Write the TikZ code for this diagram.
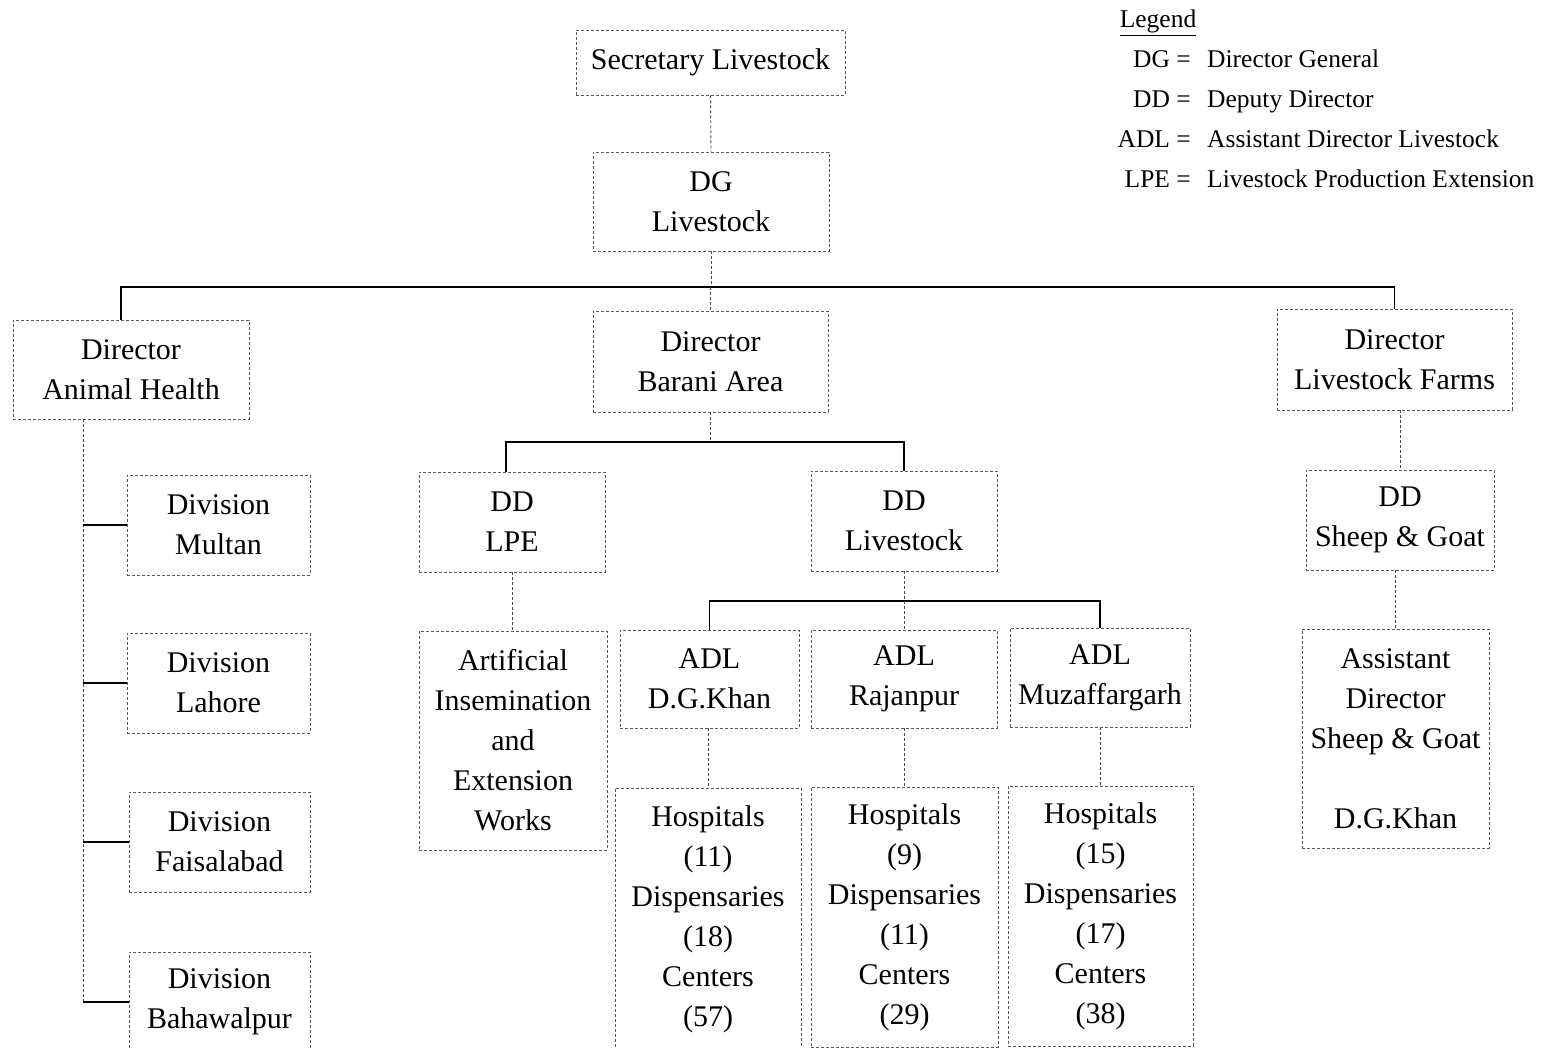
\documentclass[tikz,border=0pt]{standalone}
\usepackage{fontspec}
\setmainfont{Liberation Serif}
\begin{document}
\begin{tikzpicture}[x=1pt,y=-1pt,
  box/.style={draw=black!65, densely dashed, line width=0.8pt, inner sep=0pt, align=center,
    font=\fontsize{30}{40}\selectfont, execute at begin node={\vspace*{7pt}}},
  bus/.style={draw=black, line width=1.6pt},
  conn/.style={draw=black!70, densely dashed, line width=0.9pt},
  leg/.style={font=\fontsize{25.5}{30}\selectfont, inner sep=0pt}]
\useasboundingbox (0,0) rectangle (1543,1048);
% top
\node[box, minimum width=269, minimum height=65] (sec) at (710.5,62.5) {Secretary Livestock};
\node[box, minimum width=236, minimum height=99] (dg) at (711,201.5) {DG\\Livestock};
% directors
\node[box, minimum width=236, minimum height=99] (dah) at (131,369.5) {Director\\Animal Health};
\node[box, minimum width=235, minimum height=101] (dba) at (710.5,361.5) {Director\\Barani Area};
\node[box, minimum width=235, minimum height=101] (dlf) at (1394.5,359.5) {Director\\Livestock Farms};
% divisions
\node[box, minimum width=183, minimum height=100] (mul) at (218.5,525) {Division\\Multan};
\node[box, minimum width=183, minimum height=100] (lah) at (218.5,683) {Division\\Lahore};
\node[box, minimum width=181, minimum height=100] (fai) at (219.5,842) {Division\\Faisalabad};
\node[box, minimum width=181, minimum height=100] (bah) at (219.5,1002) {Division\\Bahawalpur};
% barani
\node[box, minimum width=186, minimum height=100] (lpe) at (512,522) {DD\\LPE};
\node[box, minimum width=186, minimum height=100] (ddl) at (904,521) {DD\\Livestock};
\node[box, minimum width=188, minimum height=219] (ai) at (513,740.5) {Artificial\\Insemination\\and\\Extension\\Works};
\node[box, minimum width=179, minimum height=98] (adg) at (709.5,679) {ADL\\D.G.Khan};
\node[box, minimum width=186, minimum height=98] (araj) at (904,679) {ADL\\Rajanpur};
\node[box, minimum width=180, minimum height=99] (amuz) at (1100,677.5) {ADL\\Muzaffargarh};
\node[box, minimum width=186, minimum height=262] (hdg) at (708,919) {Hospitals\\(11)\\Dispensaries\\(18)\\Centers\\(57)};
\node[box, minimum width=187, minimum height=260] (hraj) at (904.5,917) {Hospitals\\(9)\\Dispensaries\\(11)\\Centers\\(29)};
\node[box, minimum width=185, minimum height=260] (hmuz) at (1100.5,916) {Hospitals\\(15)\\Dispensaries\\(17)\\Centers\\(38)};
% farms
\node[box, minimum width=188, minimum height=100] (dsg) at (1400,520) {DD\\Sheep \& Goat};
\node[box, minimum width=187, minimum height=219] (asg) at (1395.5,738.5) {Assistant\\Director\\Sheep \& Goat\\[40pt]D.G.Khan};
% legend
\node[leg, anchor=base] (legt) at (1158,28) {\underline{Legend}};
\node[leg, anchor=base east] (l1a) at (1191,68) {DG =};
\node[leg, anchor=base west] (l1b) at (1207,68) {Director General};
\node[leg, anchor=base east] (l2a) at (1191,108) {DD =};
\node[leg, anchor=base west] (l2b) at (1207,108) {Deputy Director};
\node[leg, anchor=base east] (l3a) at (1191,148) {ADL =};
\node[leg, anchor=base west] (l3b) at (1207,148) {Assistant Director Livestock};
\node[leg, anchor=base east] (l4a) at (1191,188) {LPE =};
\node[leg, anchor=base west] (l4b) at (1207,188) {Livestock Production Extension};
% coordinates
\coordinate (b1) at (0,287);
\coordinate (b2) at (0,442);
\coordinate (b3) at (0,601);
\coordinate (lv) at (83,0);
\coordinate (dahtop) at (121,320);
% connectors
\draw[conn] (sec.south) -- (dg.north);
\draw[conn] (dg.south) -- (dg.south |- b1);
\draw[conn] (dba.north |- b1) -- (dba.north);
\draw[bus] (dahtop) |- (dlf.north |- b1) -- (dlf.north);
\draw[conn] (dba.south) -- (dba.south |- b2);
\draw[bus] (lpe.north -| 506,0) |- (ddl.north |- b2) -- (ddl.north);
\draw[conn] (lpe.south) -- (lpe.south |- ai.north);
\draw[conn] (ddl.south) -- (ddl.south |- b3);
\draw[bus] (adg.north) |- (amuz.north |- b3) -- (amuz.north);
\draw[conn] (araj.north |- b3) -- (araj.north);
\draw[conn] (hdg.north |- adg.south) -- (hdg.north);
\draw[conn] (araj.south) -- (araj.south |- hraj.north);
\draw[conn] (amuz.south) -- (amuz.south |- hmuz.north);
\draw[conn] (dsg.north |- dlf.south) -- (dsg.north);
\draw[conn] (asg.north |- dsg.south) -- (asg.north);
\draw[conn] (lv |- dah.south) -- (lv |- bah.west);
\draw[bus] (lv |- mul.west) -- (mul.west);
\draw[bus] (lv |- lah.west) -- (lah.west);
\draw[bus] (lv |- fai.west) -- (fai.west);
\draw[bus] (lv |- bah.west) -- (bah.west);
\end{tikzpicture}
\end{document}
